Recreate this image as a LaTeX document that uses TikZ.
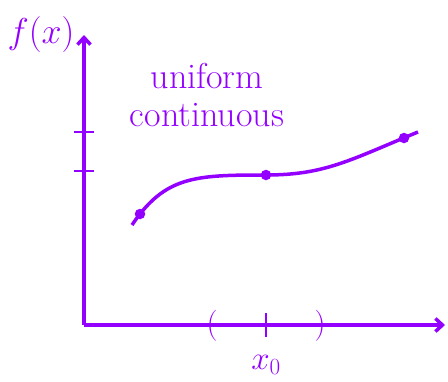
\RequirePackage{fix-cm}
\documentclass[tikz,border=0pt]{standalone}
\usetikzlibrary{arrows.meta}
\definecolor{vio}{RGB}{148,0,255}
\begin{document}
\begin{tikzpicture}[x=1pt,y=-1pt,
  axis/.style={draw=vio,line width=3.5pt,-{Straight Barb[length=7pt,width=13pt,line width=3.5pt]}},
  tickl/.style={draw=vio,line width=2.6pt},
  lbl/.style={text=vio,inner sep=0pt},
  big/.style={font=\fontsize{36}{38}\selectfont},
  pt/.style={fill=vio,circle,inner sep=0pt,minimum size=10.5pt}]
\useasboundingbox (0,0) rectangle (448,381);
\coordinate (O) at (84,325);
\coordinate (Ytop) at (84,35);
\coordinate (Xend) at (445,325);
\draw[axis] (O) -- (Ytop);
\draw[axis] (O) -- (Xend);
\coordinate (t1a) at (74,132); \coordinate (t1b) at (94,132);
\coordinate (t2a) at (74,171); \coordinate (t2b) at (94,171);
\draw[tickl] (t1a) -- (t1b);
\draw[tickl] (t2a) -- (t2b);
\coordinate (xa) at (266,313); \coordinate (xb) at (266,337);
\draw[tickl] (xa) -- (xb);
\node[lbl,font=\fontsize{31}{31}\selectfont] (lp) at (212,326) {(};
\node[lbl,font=\fontsize{31}{31}\selectfont] (rp) at (320,326) {)};
\node[lbl,big] (fx) at (41,34) {$f(x)$};
\node[lbl,font=\fontsize{33}{33}\selectfont] (x0) at (266,365) {$x_0$};
\node[lbl,big,anchor=base] (t1) at (207,88) {uniform};
\node[lbl,big,anchor=base] (t2) at (207,126) {continuous};
\coordinate (c0) at (132,225);
\coordinate (c1) at (266,175);
\coordinate (c2) at (418,132);
\draw[vio,line width=3.5pt] (c0) .. controls (165,176) and (195,175) .. (c1)
  .. controls (325,175) and (350,160) .. (c2);
\node[pt] (p1) at (140,214) {};
\node[pt] (p2) at (266,175) {};
\node[pt] (p3) at (404,138) {};
\end{tikzpicture}
\end{document}
